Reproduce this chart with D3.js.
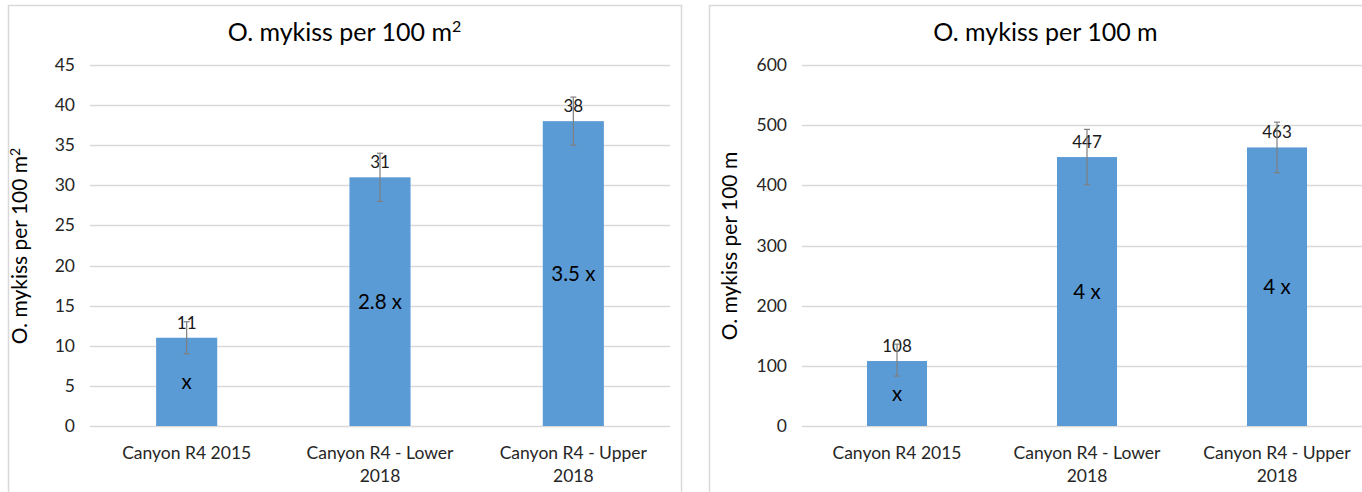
<!DOCTYPE html>
<html>
<head>
<meta charset="utf-8">
<script src="https://cdn.jsdelivr.net/npm/d3@7"></script>
<style>
  body { margin: 0; background: #fff; }
  svg { display: block; font-family: Lato, "Open Sans", sans-serif; }
</style>
</head>
<body>
<div class="charts"></div>
<script>
// categories shared by both panels (each entry = lines of the label)
var categories = [["Canyon R4 2015"], ["Canyon R4 - Lower", "2018"], ["Canyon R4 - Upper", "2018"]];

// panel 1: density per 100 m2
var areaValues = [11, 31, 38];
var areaErrLow = [9, 28, 35];
var areaErrHigh = [13, 34, 41];
var areaFold = ["x", "2.8 x", "3.5 x"];
var areaTicks = [0, 5, 10, 15, 20, 25, 30, 35, 40, 45];

// panel 2: density per 100 m
var lengthValues = [108, 447, 463];
var lengthErrLow = [83, 401, 421];
var lengthErrHigh = [136, 493, 505];
var lengthFold = ["x", "4 x", "4 x"];
var lengthTicks = [0, 100, 200, 300, 400, 500, 600];

var svgWidth = 1362;
var svgHeight = 492;

var svg = d3.select(".charts")
  .append("svg")
  .attr("width", svgWidth)
  .attr("height", svgHeight);

function drawPanel(p) {
  var g = svg.append("g");

  // chart frame
  g.append("rect")
    .attr("x", p.frame[0] + 0.5).attr("y", 5.5)
    .attr("width", p.frame[1] - p.frame[0]).attr("height", 500)
    .attr("fill", "none").attr("stroke", "#d9d9d9").attr("stroke-width", 1.5);

  var x = d3.scaleBand()
    .domain(d3.range(categories.length))
    .range(p.xRange)
    .paddingInner(0.684)
    .paddingOuter(0.342);

  var y = d3.scaleLinear()
    .domain([0, d3.max(p.ticks)])
    .range([426, 65]);

  // gridlines + tick labels
  var grid = g.append("g");
  grid.selectAll("line").data(p.ticks).enter().append("line")
    .attr("x1", p.xRange[0]).attr("x2", p.gridEnd)
    .attr("y1", function(d) { return Math.round(y(d)) + 0.5; })
    .attr("y2", function(d) { return Math.round(y(d)) + 0.5; })
    .attr("stroke", "#d9d9d9").attr("stroke-width", 1.3);
  grid.selectAll("text").data(p.ticks).enter().append("text")
    .attr("x", p.xRange[0] - 15)
    .attr("y", function(d) { return y(d) + 6; })
    .attr("text-anchor", "end")
    .attr("font-size", 17.5).attr("fill", "#262626")
    .text(function(d) { return d; });

  // bars
  g.selectAll("rect.bar").data(p.values).enter().append("rect")
    .attr("class", "bar")
    .attr("x", function(d, i) { return x(i); })
    .attr("width", x.bandwidth())
    .attr("y", function(d) { return y(d); })
    .attr("height", function(d) { return y(0) - y(d); })
    .attr("fill", "#5b9bd5");

  // value labels above bars
  g.selectAll("text.val").data(p.values).enter().append("text")
    .attr("class", "val")
    .attr("x", function(d, i) { return x(i) + x.bandwidth() / 2; })
    .attr("y", function(d) { return y(d) - 9; })
    .attr("text-anchor", "middle")
    .attr("font-size", 17).attr("fill", "#1a1a1a")
    .text(function(d) { return d; });

  // error bars
  var eb = g.append("g").attr("stroke", "#7f7f7f").attr("stroke-width", 1.2);
  p.values.forEach(function(v, i) {
    var cx = x(i) + x.bandwidth() / 2;
    eb.append("line").attr("x1", cx).attr("x2", cx)
      .attr("y1", y(p.errLow[i])).attr("y2", y(p.errHigh[i]));
    [p.errLow[i], p.errHigh[i]].forEach(function(e) {
      eb.append("line").attr("x1", cx - 3).attr("x2", cx + 3)
        .attr("y1", y(e)).attr("y2", y(e));
    });
  });

  // fold-change labels in bar middle
  g.selectAll("text.fold").data(p.fold).enter().append("text")
    .attr("class", "fold")
    .attr("x", function(d, i) { return x(i) + x.bandwidth() / 2; })
    .attr("y", function(d, i) { return y(p.values[i] / 2) + 7; })
    .attr("text-anchor", "middle")
    .attr("font-size", 20.5).attr("fill", "#000")
    .text(function(d) { return d; });

  // category labels
  categories.forEach(function(lines, i) {
    var t = g.append("text")
      .attr("x", x(i) + x.bandwidth() / 2)
      .attr("y", 459)
      .attr("text-anchor", "middle")
      .attr("font-size", 17.5).attr("fill", "#262626");
    lines.forEach(function(l, k) {
      t.append("tspan").attr("x", x(i) + x.bandwidth() / 2)
        .attr("dy", k === 0 ? 0 : 23).text(l);
    });
  });

  // chart title
  var title = g.append("text")
    .attr("x", (p.frame[0] + p.frame[1]) / 2).attr("y", 41)
    .attr("text-anchor", "middle")
    .attr("font-size", 25).attr("fill", "#000");
  title.append("tspan").text(p.title);
  if (p.sup) {
    title.append("tspan").attr("dy", -9).attr("font-size", 16).text(p.sup);
  }

  // y axis title
  var yt = g.append("text")
    .attr("transform", "translate(" + p.yTitleX + "," + 246 + ") rotate(-90)")
    .attr("text-anchor", "middle")
    .attr("font-size", 21).attr("fill", "#000");
  yt.append("tspan").text(p.title);
  if (p.sup) {
    yt.append("tspan").attr("dy", -7).attr("font-size", 14).text(p.sup);
  }
}

drawPanel({
  frame: [8, 681], xRange: [90, 670], gridEnd: 670, yTitleX: 27,
  values: areaValues, errLow: areaErrLow, errHigh: areaErrHigh,
  fold: areaFold, ticks: areaTicks,
  title: "O. mykiss per 100 m", sup: "2"
});

drawPanel({
  frame: [709, 1382], xRange: [802, 1372], gridEnd: 1362, yTitleX: 737,
  values: lengthValues, errLow: lengthErrLow, errHigh: lengthErrHigh,
  fold: lengthFold, ticks: lengthTicks,
  title: "O. mykiss per 100 m", sup: null
});
</script>
</body>
</html>
